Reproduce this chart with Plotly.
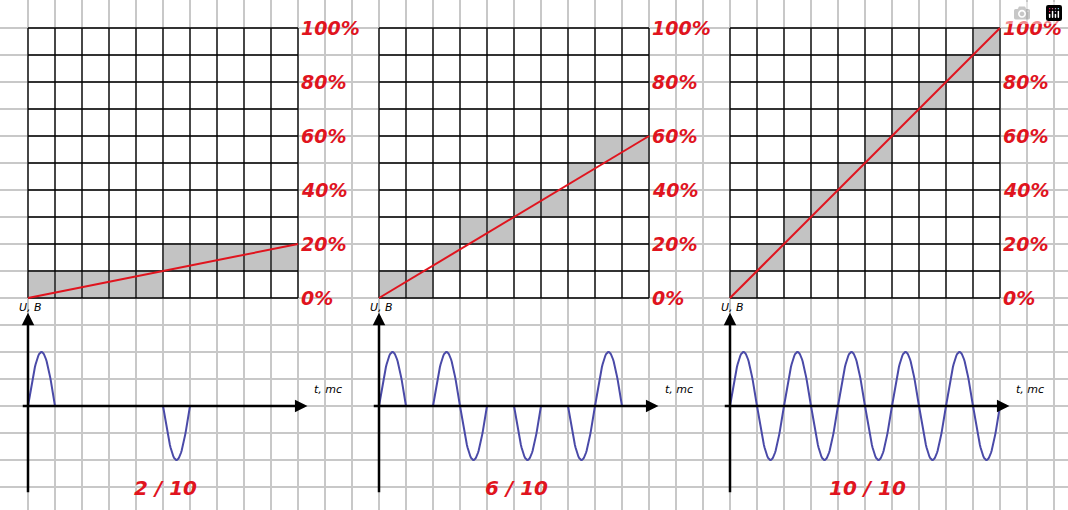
import numpy as np
import plotly.graph_objects as go

# PWM duty cycle illustration: three panels, 10 time slots each
duty_labels = ["2 / 10", "6 / 10", "10 / 10"]
duty_pct = [20, 60, 100]
# row of the grey cell in each column (staircase of the red ramp)
grey_rows = [
    [0, 0, 0, 0, 0, 1, 1, 1, 1, 1],
    [0, 0, 1, 2, 2, 3, 3, 4, 5, 5],
    [0, 1, 2, 3, 4, 5, 6, 7, 8, 9],
]
# half-wave slots where the sine is switched on
on_slots = [
    [0, 5],
    [0, 2, 3, 5, 7, 8],
    [0, 1, 2, 3, 4, 5, 6, 7, 8, 9],
]
pct_ticks = ["0%", "20%", "40%", "60%", "80%", "100%"]

RED = "#e0141e"
BLUE = "#4a4aa8"
offsets = [0, 13, 26]
axis_v = -4

fig = go.Figure()
shapes, anns = [], []

for k, off in enumerate(offsets):
    # grey cells
    for col, row in enumerate(grey_rows[k]):
        shapes.append(dict(type="rect", x0=off + col, x1=off + col + 1, y0=row, y1=row + 1,
                           fillcolor="#c3c3c3", line_width=0, layer="below"))
    # black 10x10 grid
    gx, gy = [], []
    for i in range(11):
        gx += [off + i, off + i, None]
        gy += [0, 10, None]
        gx += [off, off + 10, None]
        gy += [i, i, None]
    fig.add_trace(go.Scatter(x=gx, y=gy, mode="lines", line=dict(color="black", width=1.3),
                             hoverinfo="skip"))
    # red ramp
    fig.add_trace(go.Scatter(x=[off, off + 10], y=[0, duty_pct[k] / 10], mode="lines",
                             line=dict(color=RED, width=2), hoverinfo="skip"))
    for j, t in enumerate(pct_ticks):
        anns.append(dict(x=off + 10.05, y=j * 2, text=t, showarrow=False, xanchor="left",
                         yanchor="middle",
                         font=dict(family="DejaVu Sans", size=19, color=RED,
                                   weight="bold", style="italic")))
    # axes of the signal plot
    anns.append(dict(x=off, y=-0.55, ax=off, ay=-7.25, axref="x", ayref="y", xref="x", yref="y",
                     showarrow=True, arrowhead=2, arrowsize=1, arrowwidth=2.5, arrowcolor="black",
                     text=""))
    anns.append(dict(x=off + 10.35, y=axis_v, ax=off - 0.25, ay=axis_v, axref="x", ayref="y",
                     showarrow=True, arrowhead=2, arrowsize=1, arrowwidth=2.5, arrowcolor="black",
                     text=""))
    anns.append(dict(x=off - 0.4, y=-0.35, text="U, B", showarrow=False, xanchor="left",
                     font=dict(family="DejaVu Sans", size=11, color="black", style="italic")))
    anns.append(dict(x=off + 10.5, y=axis_v + 0.6, text="t, mc", showarrow=False, xanchor="left",
                     font=dict(family="DejaVu Sans", size=11, color="black", style="italic")))
    anns.append(dict(x=off + 5.1, y=-7.05, text=duty_labels[k], showarrow=False,
                     font=dict(family="DejaVu Sans", size=20, color=RED,
                               weight="bold", style="italic")))
    # sine, only in active slots
    sx, sy = [], []
    for s in on_slots[k]:
        t = np.linspace(s, s + 1, 40)
        sx += list(off + t) + [None]
        sy += list(axis_v + 2 * np.sin(np.pi * t)) + [None]
    fig.add_trace(go.Scatter(x=sx, y=sy, mode="lines", line=dict(color=BLUE, width=2),
                             hoverinfo="skip"))

fig.update_layout(
    width=1068, height=510, margin=dict(l=0, r=0, t=0, b=0),
    plot_bgcolor="white", paper_bgcolor="white", showlegend=False,
    shapes=shapes, annotations=anns,
    xaxis=dict(range=[-28 / 27, 1040 / 27], tick0=0, dtick=1, showgrid=True,
               gridcolor="#c8c8c8", gridwidth=1.5, zeroline=False, showticklabels=False,
               fixedrange=True),
    yaxis=dict(range=[-212 / 27, 298 / 27], tick0=0, dtick=1, showgrid=True,
               gridcolor="#c8c8c8", gridwidth=1.5, zeroline=False, showticklabels=False,
               fixedrange=True),
)
fig.write_html("out.html", post_script="document.body.style.margin='0';")
